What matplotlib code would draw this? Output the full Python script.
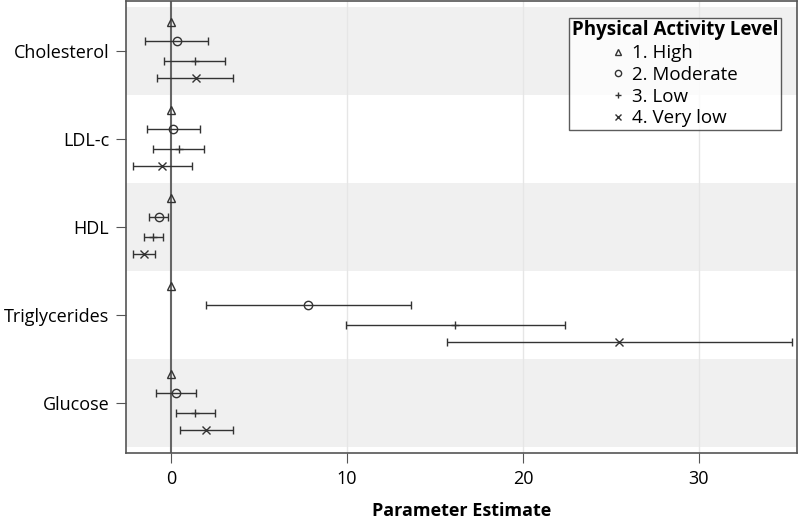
import matplotlib.pyplot as plt
import numpy as np

plt.rcParams['font.family'] = ['Open Sans', 'DejaVu Sans']

# data
outcomes = ['Cholesterol', 'LDL-c', 'HDL', 'Triglycerides', 'Glucose']
levels = ['1. High', '2. Moderate', '3. Low', '4. Very low']
markers = ['^', 'o', '+', 'x']

# estimate, lower, upper per outcome; rows = levels
chol_est = [0.0, 0.32, 1.35, 1.40]
chol_lo = [np.nan, -1.46, -0.38, -0.78]
chol_hi = [np.nan, 2.10, 3.07, 3.52]

ldl_est = [0.0, 0.13, 0.44, -0.49]
ldl_lo = [np.nan, -1.38, -1.00, -2.16]
ldl_hi = [np.nan, 1.63, 1.88, 1.21]

hdl_est = [0.0, -0.68, -1.00, -1.53]
hdl_lo = [np.nan, -1.25, -1.56, -2.18]
hdl_hi = [np.nan, -0.15, -0.47, -0.91]

trig_est = [0.0, 7.80, 16.16, 25.49]
trig_lo = [np.nan, 1.99, 9.95, 15.71]
trig_hi = [np.nan, 13.63, 22.39, 35.28]

gluc_est = [0.0, 0.27, 1.38, 1.99]
gluc_lo = [np.nan, -0.85, 0.28, 0.49]
gluc_hi = [np.nan, 1.40, 2.48, 3.52]

est = [chol_est, ldl_est, hdl_est, trig_est, gluc_est]
lo = [chol_lo, ldl_lo, hdl_lo, trig_lo, gluc_lo]
hi = [chol_hi, ldl_hi, hdl_hi, trig_hi, gluc_hi]

offsets = [-0.33, -0.11, 0.11, 0.31]
col = '#333333'

fig = plt.figure(figsize=(8, 5.21), dpi=100)
ax = fig.add_axes([0.1575, 0.1305, 0.8385, 0.8675])

# alternating bands
for i in range(len(outcomes)):
    if i % 2 == 0:
        ax.axhspan(i - 0.5, i + 0.5, color='#f0f0f0', lw=0, zorder=0)

for xt in [10, 20, 30]:
    ax.axvline(xt, color='#e6e6e6', lw=1, zorder=0.5)

ax.axvline(0, color='#666666', lw=1.5, zorder=1)

for j in range(len(levels)):
    e = np.array([est[i][j] for i in range(5)])
    l = np.array([lo[i][j] for i in range(5)])
    h = np.array([hi[i][j] for i in range(5)])
    y = np.arange(5) + offsets[j]
    if j > 0:
        ax.errorbar(e, y, xerr=[e - l, h - e], fmt='none', ecolor=col,
                    elinewidth=1, capsize=3, capthick=1, zorder=2)
    if markers[j] in ['+', 'x']:
        ax.plot(e, y, linestyle='none', marker=markers[j], color=col,
                ms=6, mew=1, zorder=3, label=levels[j])
    else:
        ax.plot(e, y, linestyle='none', marker=markers[j], mfc='none',
                mec=col, ms=6, mew=1, zorder=3, label=levels[j])

ax.set_xlim(-2.56, 35.57)
ax.set_ylim(4.57, -0.57)
ax.set_yticks(range(5))
ax.set_yticklabels(outcomes, fontsize=13)
ax.set_xticks([0, 10, 20, 30])
ax.tick_params(axis='x', labelsize=13, length=7, color='#555555', pad=5)
ax.tick_params(axis='y', length=7, color='#555555', pad=5)
ax.set_xlabel('Parameter Estimate', fontsize=13, fontweight='bold', labelpad=10)
for s in ax.spines.values():
    s.set_color('#555555')
    s.set_linewidth(1.2)

leg = ax.legend(title='Physical Activity Level', loc='upper right',
                bbox_to_anchor=(0.991, 0.984), fontsize=13.5,
                title_fontproperties={'weight': 'bold', 'size': 13.5},
                frameon=True, fancybox=False, edgecolor='#333333',
                handlelength=0.5, handletextpad=0.5, borderpad=0.15,
                labelspacing=0.2, markerscale=0.75)
leg.get_frame().set_linewidth(1)

fig.savefig('out.png', dpi=100)
